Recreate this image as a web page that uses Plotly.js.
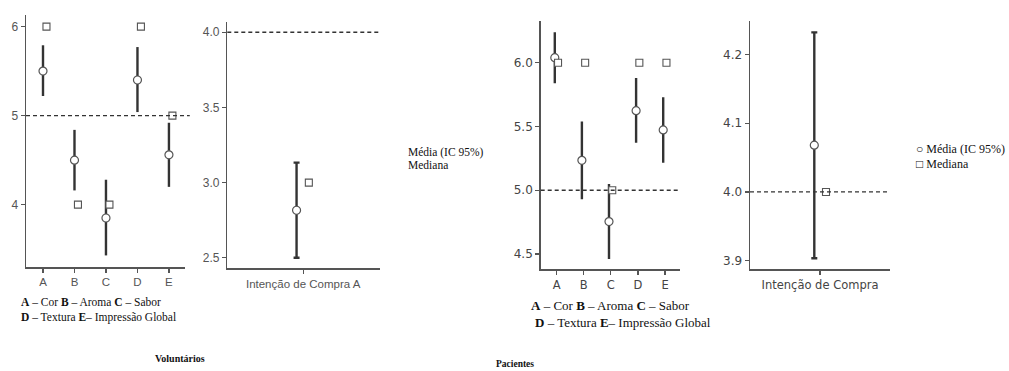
<!DOCTYPE html>
<html>
<head>
<meta charset="utf-8">
<script src="https://cdn.plot.ly/plotly-3.0.1.min.js"></script>
<style>html,body{margin:0;padding:0;background:#fff}#chart{width:1009px;height:371px}</style>
</head>
<body>
<div id="chart"></div>
<script>
// ---------- data ----------
const attrCategories = ["A", "B", "C", "D", "E"];
// Voluntários
const volMean = [5.50, 4.50, 3.85, 5.40, 4.56];
const volCiUpper = [5.79, 4.84, 4.28, 5.77, 4.92];
const volCiLower = [5.22, 4.16, 3.43, 5.04, 4.20];
const volMedian = [6, 4, 4, 6, 5];
const volIntentCategory = ["Intenção de Compra A"];
const volIntentMean = [2.816];
const volIntentCiUpper = [3.133];
const volIntentCiLower = [2.50];
const volIntentMedian = [3.0];
// Pacientes
const patMean = [6.04, 5.235, 4.754, 5.624, 5.473];
const patCiUpper = [6.24, 5.54, 5.05, 5.88, 5.73];
const patCiLower = [5.84, 4.93, 4.46, 5.373, 5.216];
const patMedian = [6, 6, 5, 6, 6];
const patIntentCategory = ["Intenção de Compra"];
const patIntentMean = [4.068];
const patIntentCiUpper = [4.232];
const patIntentCiLower = [3.9035];
const patIntentMedian = [4.0];
// reference lines
const volAttrRef = 5, volIntentRef = 4.0, patAttrRef = 5.0, patIntentRef = 4.0;

// ---------- helpers ----------
const W = 1009, H = 371;
const px = v => v / W;
const py = v => 1 - v / H;
const idx = arr => arr.map((_, i) => i);
const shift = (arr, d) => arr.map(v => v + d);

const circleMarker = {symbol: "circle", size: 8, color: "#ffffff", line: {color: "#555555", width: 1.2}};
const squareMarker = {symbol: "square", size: 7, color: "#ffffff", line: {color: "#555555", width: 1.1}};

function meanTrace(xs, mean, up, lo, xa, ya, capw) {
  return {
    type: "scatter", mode: "markers", x: xs, y: mean, xaxis: xa, yaxis: ya,
    marker: circleMarker, showlegend: false, hoverinfo: "skip",
    error_y: {type: "data", symmetric: false,
      array: up.map((u, i) => u - mean[i]), arrayminus: lo.map((l, i) => mean[i] - l),
      color: "#333333", thickness: 2.4, width: capw}
  };
}
function medianTrace(xs, med, xa, ya) {
  return {type: "scatter", mode: "markers", x: xs, y: med, xaxis: xa, yaxis: ya,
    marker: squareMarker, showlegend: false, hoverinfo: "skip"};
}

const traces = [
  meanTrace(shift(idx(attrCategories), 0), volMean, volCiUpper, volCiLower, "x", "y", 0),
  medianTrace(shift(idx(attrCategories), 0.11), volMedian, "x", "y"),
  meanTrace(shift(idx(volIntentCategory), -0.066), volIntentMean, volIntentCiUpper, volIntentCiLower, "x2", "y2", 3),
  medianTrace(shift(idx(volIntentCategory), 0.057), volIntentMedian, "x2", "y2"),
  meanTrace(shift(idx(attrCategories), -0.07), patMean, patCiUpper, patCiLower, "x3", "y3", 0),
  medianTrace(shift(idx(attrCategories), 0.05), patMedian, "x3", "y3"),
  meanTrace(shift(idx(patIntentCategory), -0.057), patIntentMean, patIntentCiUpper, patIntentCiLower, "x4", "y4", 3),
  medianTrace(shift(idx(patIntentCategory), 0.06), patIntentMedian, "x4", "y4")
];

const tickFontA = {family: "Liberation Sans, Arial, sans-serif", size: 12, color: "#555555"};
const tickFontB = {family: "DejaVu Sans, sans-serif", size: 12, color: "#444444"};
const xFontA = {family: "Liberation Sans, Arial, sans-serif", size: 11.5, color: "#555555"};
const xFontB = {family: "DejaVu Sans, sans-serif", size: 11.5, color: "#444444"};
function xax(domain, range, cats, font) {
  return {domain: domain, range: range, tickmode: "array", tickvals: idx(cats), ticktext: cats,
    showline: true, linecolor: "#555555", linewidth: 1.5, ticks: "outside", ticklen: 4, tickwidth: 1.2,
    tickcolor: "#555555", showgrid: false, zeroline: false, tickfont: font, fixedrange: true};
}
function yax(domain, range, anchor, tickvals, font, fmt) {
  return {domain: domain, range: range, anchor: anchor, tickmode: "array", tickvals: tickvals,
    ticktext: tickvals.map(v => fmt ? v.toFixed(1) : String(v)),
    showline: true, linecolor: "#555555", linewidth: 1.5, ticks: "outside", ticklen: 4, tickwidth: 1.2,
    tickcolor: "#555555", showgrid: false, zeroline: false, tickfont: font, fixedrange: true};
}

const serif = "Liberation Serif, Times New Roman, serif";
function note(x, y, text, size, extra) {
  return Object.assign({xref: "paper", yref: "paper", x: px(x), y: py(y), text: text, showarrow: false,
    xanchor: "left", yanchor: "middle", font: {family: serif, size: size || 13, color: "#111111"}}, extra || {});
}
function refLine(xa, ya, yv, x1) {
  return {type: "line", xref: xa + " domain", yref: ya, x0: 0, x1: x1, y0: yv, y1: yv,
    line: {color: "#333333", width: 1.3, dash: "4px,3px"}};
}

const layout = {
  width: W, height: H, margin: {l: 0, r: 0, t: 0, b: 0},
  paper_bgcolor: "#ffffff", plot_bgcolor: "rgba(0,0,0,0)", showlegend: false,
  xaxis: Object.assign(xax([px(26), px(185)], [-0.54, 4.51], attrCategories, xFontA), {anchor: "y"}),
  yaxis: yax([py(267), py(15)], [3.30, 6.13], "x", [4, 5, 6], tickFontA, false),
  xaxis2: Object.assign(xax([px(227.3), px(380)], [-0.76, 0.77], volIntentCategory, xFontA), {anchor: "y2"}),
  yaxis2: yax([py(268.3), py(21.7)], [2.43, 4.07], "x2", [2.5, 3.0, 3.5, 4.0], tickFontA, true),
  xaxis3: Object.assign(xax([px(540.7), px(680)], [-0.59, 4.55], attrCategories, xFontB), {anchor: "y3"}),
  yaxis3: yax([py(269.3), py(20.7)], [4.38, 6.33], "x3", [4.5, 5.0, 5.5, 6.0], tickFontB, true),
  xaxis4: Object.assign(xax([px(750), px(890)], [-0.70, 0.70], patIntentCategory, xFontB), {anchor: "y4"}),
  yaxis4: yax([py(269.3), py(20.7)], [3.8875, 4.249], "x4", [3.9, 4.0, 4.1, 4.2], tickFontB, true),
  shapes: [
    refLine("x", "y", volAttrRef, 1.03),
    refLine("x2", "y2", volIntentRef, 1.0),
    refLine("x3", "y3", patAttrRef, 1.0),
    refLine("x4", "y4", patIntentRef, 1.0)
  ],
  annotations: [
    note(19, 302, "<b>A</b> – Cor <b>B</b> – Aroma <b>C</b> – Sabor", 11.5),
    note(19, 317, "<b>D</b> – Textura <b>E</b>– Impressão Global", 11.5),
    note(529, 305, "<b>A</b> – Cor <b>B</b> – Aroma <b>C</b> – Sabor", 13),
    note(533, 322, "<b>D</b> – Textura <b>E</b>– Impressão Global", 13),
    note(406, 152, "Média (IC 95%)", 11.5),
    note(406, 165, "Mediana", 11.5),
    note(914, 149, "○ Média (IC 95%)", 12),
    note(914, 164, "□ Mediana", 12),
    note(180, 358, "<b>Voluntários</b>", 10, {xanchor: "center"}),
    note(515, 364, "<b>Pacientes</b>", 9.5, {xanchor: "center"})
  ]
};

Plotly.newPlot("chart", traces, layout, {displayModeBar: false, staticPlot: true});
</script>
</body>
</html>
